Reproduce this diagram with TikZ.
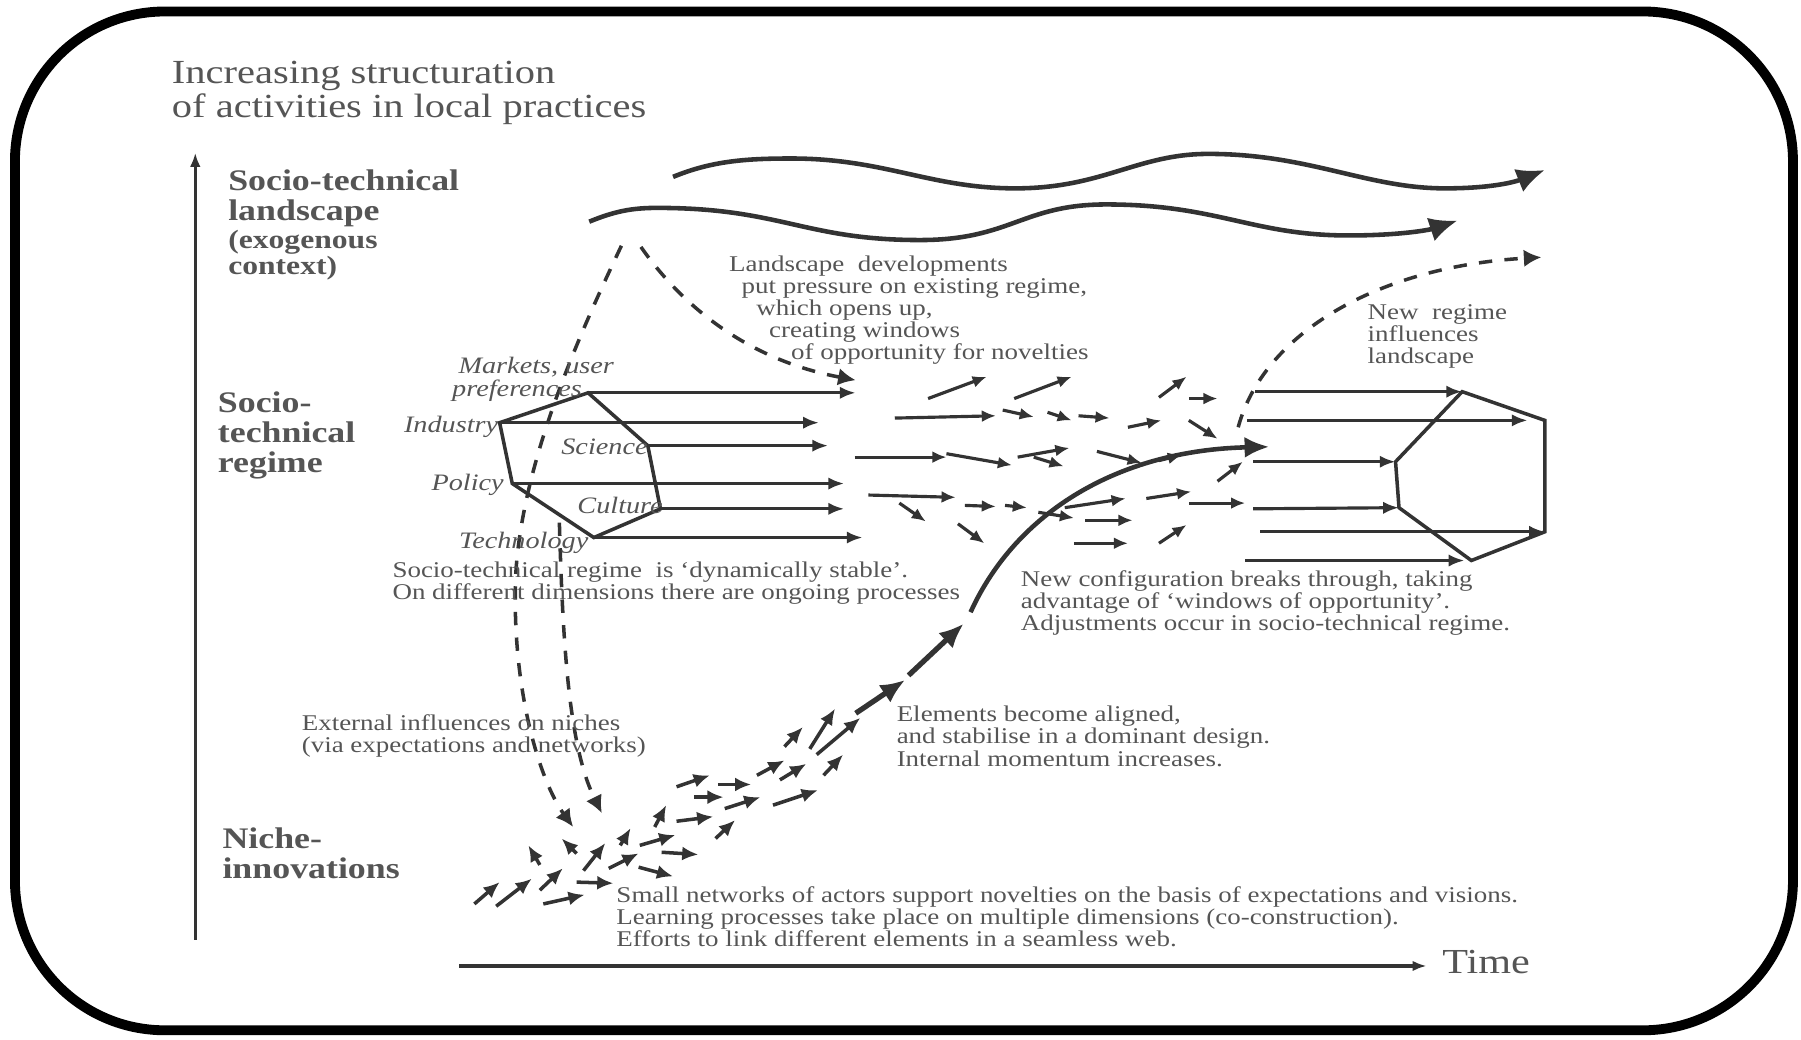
\documentclass[tikz,border=0pt]{standalone}
\usepackage{fontspec}
\setmainfont{Liberation Serif}
\usepackage{tikz}
\usetikzlibrary{arrows.meta,calc,positioning}
\definecolor{inkgray}{HTML}{333333}
\definecolor{txtgray}{HTML}{555555}

\begin{document}
\begin{tikzpicture}[x=0.011486cm,y=-0.011486cm,
  txt/.style={font=\fontsize{6.4}{6.3}\selectfont,text=txtgray,align=left,inner sep=0pt,xscale=1.2,anchor=west},
  lvl/.style={font=\fontsize{8.5}{8.5}\selectfont\bfseries,text=txtgray,align=left,inner sep=0pt,xscale=1.2,anchor=west},
  dim/.style={font=\fontsize{6.7}{6.6}\selectfont\itshape,text=txtgray,align=left,inner sep=0pt,xscale=1.2,anchor=west},
  flw/.style={draw=inkgray,line width=0.9pt,-{Latex[length=4pt,width=3.4pt]}},
  nch/.style={draw=inkgray,line width=1pt,-{Latex[length=4.6pt,width=4pt]}},
  thk/.style={draw=inkgray,line width=1.5pt,-{Latex[length=7pt,width=6pt]}},
  lng/.style={draw=inkgray,line width=0.9pt,-{Latex[length=4.5pt,width=3.5pt]}},
  dsh/.style={draw=inkgray,line width=1pt,dash pattern=on 3.8pt off 3.5pt,-{Latex[length=5pt,width=5pt]}},
  wav/.style={draw=inkgray,line width=1.3pt,-{Latex[length=8pt,width=7pt]}},
  hex/.style={draw=inkgray,line width=1pt},
  axs/.style={draw=inkgray,line width=0.9pt,-{Latex[length=4pt,width=3pt]}}]
\useasboundingbox (0,0) rectangle (1568,905);
\draw[line width=2.8pt,rounded corners=1.5cm] (13,10) rectangle (1561,897);

\node[txt,font=\fontsize{9.6}{9.5}\selectfont] (title) at (149,81) {Increasing structuration\\of activities in local practices};
\coordinate (Y0) at (170,818);
\coordinate (Y1) at (170,133);
\draw[axs] (Y0) -- (Y1);
\coordinate (X0) at (400,841);
\coordinate (X1) at (1242,841);
\draw[axs] (X0) -- (X1);
\node[txt,font=\fontsize{10}{10}\selectfont] (time) at (1255,838) {Time};

\node[lvl] (land) at (198,173) {Socio-technical\\landscape};
\node[lvl,font=\fontsize{7.5}{7.5}\selectfont\bfseries] (exo) at (198,222) {(exogenous\\context)};
\node[lvl] (regime) at (189,379) {Socio-\\technical\\regime};
\node[lvl] (niche) at (193,743) {Niche-\\innovations};

\draw[wav] (586,154) .. controls (620,140) and (650,138) .. (689,138)
  .. controls (770,138) and (810,164) .. (884,164)
  .. controls (960,164) and (990,134) .. (1052,134)
  .. controls (1140,134) and (1190,164) .. (1258,164)
  .. controls (1300,164) and (1320,158) .. (1345,148);
\draw[wav] (513,193) .. controls (535,184) and (550,181) .. (572,181)
  .. controls (680,181) and (700,209) .. (801,209)
  .. controls (880,209) and (890,178) .. (963,178)
  .. controls (1060,178) and (1090,205) .. (1174,205)
  .. controls (1220,205) and (1245,200) .. (1269,192);

\coordinate (A) at (541,214);
\coordinate (B) at (558,215);
\draw[dsh] (A) .. controls (505,290) and (455,400) .. (449,500)
  .. controls (445,600) and (470,680) .. (499,720);
\draw[dsh] (487,455) .. controls (490,560) and (495,650) .. (524,708);
\draw[dsh] (B) .. controls (600,275) and (660,315) .. (745,331);
\draw[dsh] (1078,372) .. controls (1100,290) and (1200,232) .. (1342,224);

\node[txt] (press) at (634,270) {Landscape\ \ developments\\\hspace*{3pt}put pressure on existing regime,\\\hspace*{6.5pt}which opens up,\\\hspace*{9.5pt}creating windows\\\hspace*{14.7pt}of opportunity for novelties};
\node[txt] (newreg) at (1190,293) {New\ \ regime\\influences\\landscape};

\coordinate (M) at (512,342);
\coordinate (I) at (435,368);
\coordinate (S) at (564,388);
\coordinate (P) at (446,421);
\coordinate (C) at (575,443);
\coordinate (T) at (517,468);
\draw[hex] (M) -- (I) -- (P) -- (T) -- (C) -- (S) -- cycle;
\draw[lng] (M) -- (745,342);
\draw[lng] (I) -- (713,368);
\draw[lng] (S) -- (721,388);
\draw[lng] (P) -- (735,421);
\draw[lng] (C) -- (735,443);
\draw[lng] (T) -- (751,468);
\node[dim] (mkt) at (393,330) {\hspace*{1.5pt}Markets, user\\preferences};
\node[dim] (ind) at (351,372) {Industry};
\node[dim] (sci) at (488,389) {Science};
\node[dim] (pol) at (375,422) {Policy};
\node[dim] (cul) at (502,440) {Culture};
\node[dim] (tec) at (399,473) {Technology};

\node[txt] (stable) at (341,508) {Socio-technical regime\ \ is `dynamically stable'.\\On different dimensions there are ongoing processes};

\foreach \xa/\ya/\xb/\yb in {808/347/859/328, 883/347/933/328, 1009/346/1033/328,
  1035/347/1060/347, 779/364/867/362, 873/357/900/363, 912/359/933/366,
  939/362/966/364, 982/372/1011/366, 1035/366/1060/382, 744/398/824/398,
  824/395/881/405, 886/398/931/390, 900/398/926/406, 955/393/994/403,
  1009/401/1029/396, 1060/419/1082/402, 756/431/832/433, 783/438/806/454,
  840/440/867/441, 875/440/894/442, 904/446/935/451, 927/442/980/434,
  945/453/986/453, 998/434/1037/428, 1035/438/1084/438, 834/456/857/473,
  935/473/982/473, 1009/473/1033/457}
  \draw[flw] (\xa,\ya) -- (\xb,\yb);

\coordinate (Q1) at (1273,341);
\coordinate (Q2) at (1345,366);
\coordinate (Q3) at (1345,463);
\coordinate (Q4) at (1281,488);
\coordinate (Q5) at (1218,442);
\coordinate (Q6) at (1215,402);
\draw[hex] (Q1) -- (Q2) -- (Q3) -- (Q4) -- (Q5) -- (Q6) -- cycle;
\draw[lng] (1093,341) -- (Q1);
\draw[lng] (1086,366) -- (1330,366);
\draw[lng] (1091,402) -- (Q6);
\draw[lng] (1091,443) -- (Q5);
\draw[lng] (1097,463) -- (Q3);
\draw[lng] (1084,488) -- (1275,488);

\draw[thk,line width=1.3pt] (845,533) .. controls (885,445) and (975,392) .. (1105,389);
\draw[thk] (745,621) -- (788,592);
\draw[thk] (791,588) -- (839,543);

\foreach \xa/\ya/\xb/\yb in {413/787/435/768, 432/789/463/765, 470/775/490/756,
  473/787/509/779, 502/768/534/769, 470/753/460/736, 502/743/489/730,
  508/758/527/734, 530/756/556/743, 556/755/586/763, 540/736/549/721,
  557/736/588/727, 576/742/608/744, 570/720/580/701, 589/715/621/711,
  589/685/618/675, 604/694/630/694, 625/683/654/683, 623/730/640/714,
  631/704/662/694, 659/675/683/662, 679/679/702/665, 673/701/712/688,
  683/650/699/633, 705/652/727/617, 711/657/749/625, 717/675/734/657}
  \draw[nch] (\xa,\ya) -- (\xb,\yb);

\node[txt] (brk) at (888,525) {New configuration breaks through, taking\\advantage of `windows of opportunity'.\\Adjustments occur in socio-technical regime.};
\node[txt] (align) at (780,641) {Elements become aligned,\\and stabilise in a dominant design.\\Internal momentum increases.};
\node[txt] (ext) at (262,641) {External influences on niches\\(via expectations and networks)};
\node[txt] (small) at (536,798) {Small networks of actors support novelties on the basis of expectations and visions.\\Learning processes take place on multiple dimensions (co-construction).\\Efforts to link different elements in a seamless web.};
\end{tikzpicture}
\end{document}
